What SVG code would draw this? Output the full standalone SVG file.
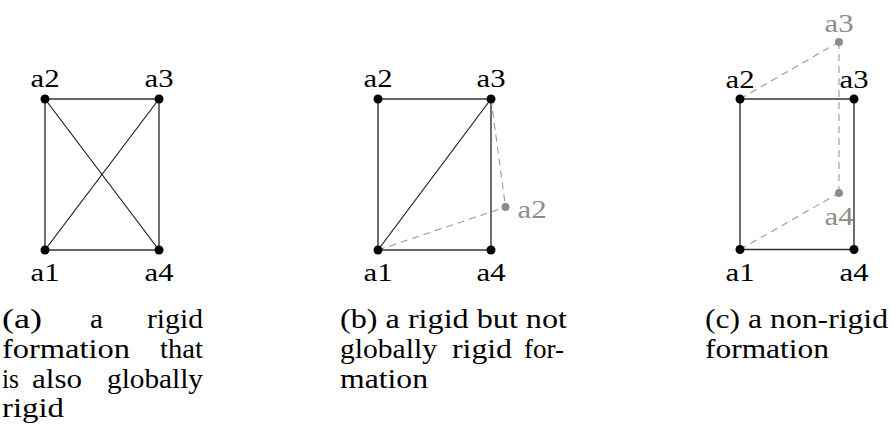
<svg xmlns="http://www.w3.org/2000/svg" width="892" height="442" viewBox="0 0 892 442">
<style>
.lbl{font-family:"Liberation Serif","Times New Roman",serif;font-size:26px;fill:#000;text-anchor:middle}
.glbl{font-family:"Liberation Serif","Times New Roman",serif;font-size:26px;fill:#8c8c8c}
.cap{font-family:"Liberation Serif","Times New Roman",serif;font-size:27px;fill:#000}
.edge{stroke:#333;stroke-width:1.4;fill:none}
.diag{stroke:#111;stroke-width:1.1;fill:none}
.dash{stroke:#999;stroke-width:1.1;stroke-dasharray:7 5;fill:none}
.node{fill:#000}
.gnode{fill:#8c8c8c}
</style>
<rect width="892" height="442" fill="#fff"/>
<g id="connectors">
  <!-- panel a -->
  <line class="edge" x1="45" y1="99" x2="159" y2="99"/>
  <line class="edge" x1="45" y1="99" x2="45" y2="250"/>
  <line class="edge" x1="159" y1="99" x2="159" y2="250"/>
  <line class="edge" x1="45" y1="250" x2="159" y2="250"/>
  <line class="diag" x1="45" y1="99" x2="159" y2="250"/>
  <line class="diag" x1="45" y1="250" x2="159" y2="99"/>
  <!-- panel b -->
  <line class="edge" x1="378" y1="99" x2="491" y2="99"/>
  <line class="edge" x1="378" y1="99" x2="378" y2="250"/>
  <line class="edge" x1="491" y1="99" x2="491" y2="250"/>
  <line class="edge" x1="378" y1="250" x2="491" y2="250"/>
  <line class="diag" x1="378" y1="250" x2="491" y2="99"/>
  <line class="dash" x1="491" y1="99" x2="505.5" y2="207"/>
  <line class="dash" x1="378" y1="250" x2="505.5" y2="207"/>
  <!-- panel c -->
  <line class="edge" x1="740" y1="99" x2="854" y2="99"/>
  <line class="edge" x1="740" y1="99" x2="740" y2="249.5"/>
  <line class="edge" x1="854" y1="99" x2="854" y2="249.5"/>
  <line class="edge" x1="740" y1="249.5" x2="854" y2="249.5"/>
  <line class="dash" x1="740" y1="99" x2="839" y2="42"/>
  <line class="dash" x1="839" y1="42" x2="839" y2="193"/>
  <line class="dash" x1="740" y1="249.5" x2="839" y2="193"/>
</g>
<!-- panel a nodes -->
<g id="a_a1"><circle class="node" cx="45" cy="250" r="4.5"/><text class="lbl" x="45" y="280.5" textLength="29" lengthAdjust="spacingAndGlyphs">a1</text></g>
<g id="a_a2"><circle class="node" cx="45" cy="99" r="4.5"/><text class="lbl" x="45" y="87" textLength="29" lengthAdjust="spacingAndGlyphs">a2</text></g>
<g id="a_a3"><circle class="node" cx="159" cy="99" r="4.5"/><text class="lbl" x="159" y="87" textLength="29" lengthAdjust="spacingAndGlyphs">a3</text></g>
<g id="a_a4"><circle class="node" cx="159" cy="250" r="4.5"/><text class="lbl" x="159" y="280.5" textLength="29" lengthAdjust="spacingAndGlyphs">a4</text></g>
<!-- panel b nodes -->
<g id="b_a1"><circle class="node" cx="378" cy="250" r="4.5"/><text class="lbl" x="378" y="280.5" textLength="29" lengthAdjust="spacingAndGlyphs">a1</text></g>
<g id="b_a2"><circle class="node" cx="378" cy="99" r="4.5"/><text class="lbl" x="378" y="87" textLength="29" lengthAdjust="spacingAndGlyphs">a2</text></g>
<g id="b_a3"><circle class="node" cx="491" cy="99" r="4.5"/><text class="lbl" x="491" y="87" textLength="29" lengthAdjust="spacingAndGlyphs">a3</text></g>
<g id="b_a4"><circle class="node" cx="491" cy="250" r="4.5"/><text class="lbl" x="491" y="280.5" textLength="29" lengthAdjust="spacingAndGlyphs">a4</text></g>
<g id="b_a2_alt"><circle class="gnode" cx="505.5" cy="207" r="4"/><text class="glbl" x="517.5" y="217.5" textLength="29" lengthAdjust="spacingAndGlyphs">a2</text></g>
<!-- panel c nodes -->
<g id="c_a1"><circle class="node" cx="740" cy="249.5" r="4.5"/><text class="lbl" x="740" y="280.5" textLength="29" lengthAdjust="spacingAndGlyphs">a1</text></g>
<g id="c_a2"><circle class="node" cx="740" cy="99" r="4.5"/><text class="lbl" x="740" y="87.5" textLength="29" lengthAdjust="spacingAndGlyphs">a2</text></g>
<g id="c_a3"><circle class="node" cx="854" cy="99" r="4.5"/><text class="lbl" x="854" y="87.5" textLength="29" lengthAdjust="spacingAndGlyphs">a3</text></g>
<g id="c_a4"><circle class="node" cx="854" cy="249.5" r="4.5"/><text class="lbl" x="854" y="280.5" textLength="29" lengthAdjust="spacingAndGlyphs">a4</text></g>
<g id="c_a3_alt"><circle class="gnode" cx="839" cy="42" r="4"/><text class="glbl" x="839" y="31.5" text-anchor="middle" textLength="29" lengthAdjust="spacingAndGlyphs">a3</text></g>
<g id="c_a4_alt"><circle class="gnode" cx="839" cy="193" r="4"/><text class="glbl" x="839" y="225" text-anchor="middle" textLength="29" lengthAdjust="spacingAndGlyphs">a4</text></g>
<!-- captions -->
<g id="caption_a" class="cap">
  <text x="2" y="328" textLength="40" lengthAdjust="spacingAndGlyphs">(a)</text>
  <text x="90" y="328" textLength="13" lengthAdjust="spacingAndGlyphs">a</text>
  <text x="147" y="328" textLength="56" lengthAdjust="spacingAndGlyphs">rigid</text>
  <text x="2" y="358" textLength="128" lengthAdjust="spacingAndGlyphs">formation</text>
  <text x="160" y="358" textLength="43" lengthAdjust="spacingAndGlyphs">that</text>
  <text x="2" y="388" textLength="17" lengthAdjust="spacingAndGlyphs">is</text>
  <text x="32" y="388" textLength="50" lengthAdjust="spacingAndGlyphs">also</text>
  <text x="107" y="388" textLength="96" lengthAdjust="spacingAndGlyphs">globally</text>
  <text x="2" y="417" textLength="62" lengthAdjust="spacingAndGlyphs">rigid</text>
</g>
<g id="caption_b" class="cap">
  <text x="340" y="328" textLength="227" lengthAdjust="spacingAndGlyphs">(b) a rigid but not</text>
  <text x="340" y="358" textLength="97" lengthAdjust="spacingAndGlyphs">globally</text>
  <text x="452" y="358" textLength="60" lengthAdjust="spacingAndGlyphs">rigid</text>
  <text x="524" y="358" textLength="40" lengthAdjust="spacingAndGlyphs">for-</text>
  <text x="340" y="388" textLength="88" lengthAdjust="spacingAndGlyphs">mation</text>
</g>
<g id="caption_c" class="cap">
  <text x="705" y="328" textLength="183" lengthAdjust="spacingAndGlyphs">(c) a non-rigid</text>
  <text x="705" y="358" textLength="124" lengthAdjust="spacingAndGlyphs">formation</text>
</g>
</svg>
